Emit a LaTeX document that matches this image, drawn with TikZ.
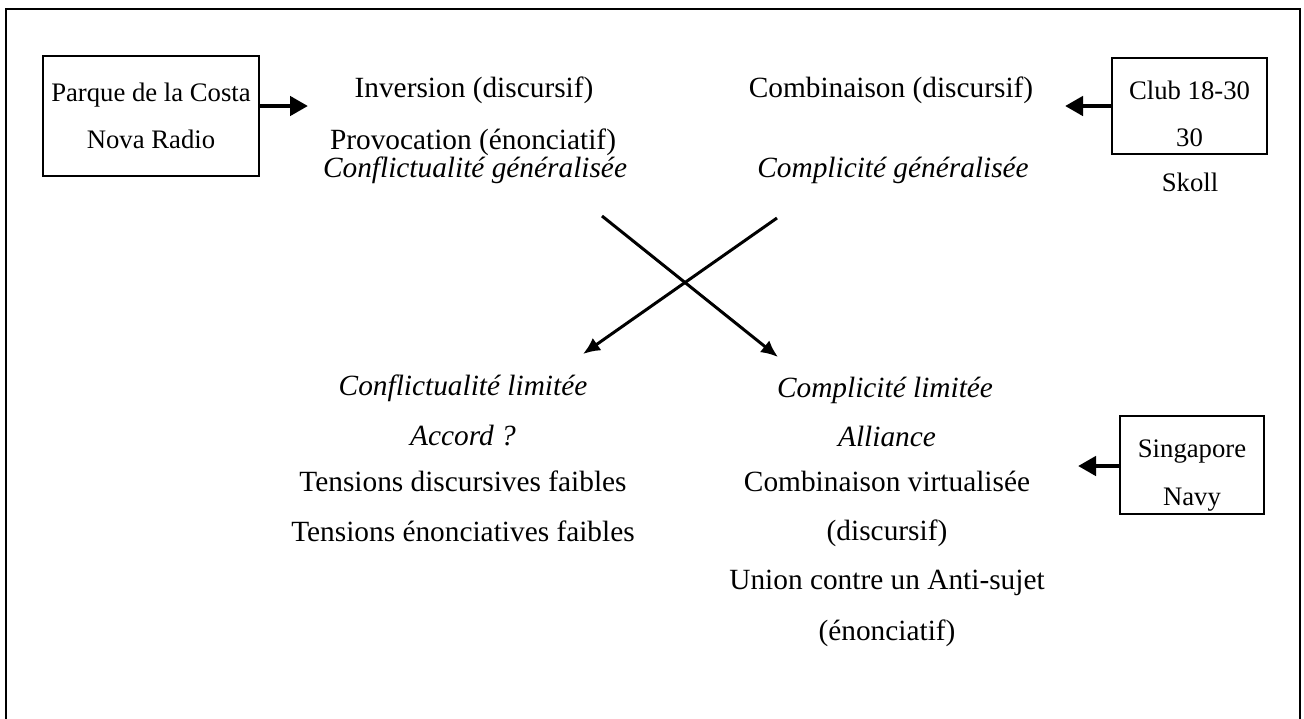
\documentclass[tikz,border=0pt]{standalone}
\usepackage{fontspec}
\setmainfont{Liberation Serif}
\usetikzlibrary{positioning, arrows.meta}

\begin{document}
\begin{tikzpicture}[x=0.02cm, y=-0.02cm,
  every node/.style={font=\fontsize{16.7}{20}\selectfont, inner sep=1pt},
  boxnode/.style={draw, line width=1.1pt, align=center, inner sep=2pt, font=\fontsize{15.2}{27}\selectfont},
  itnode/.style={font=\fontsize{16.7}{20}\selectfont\itshape},
  bigarrow/.style={-{Triangle[length=0.36cm, width=0.38cm]}, line width=2.8pt},
  crossarrow/.style={-{Latex[length=0.34cm, width=0.3cm]}, line width=1.7pt}]

\path[use as bounding box] (0,0) rectangle (1304,718);
\clip (0,0) rectangle (1304,718);
\draw[line width=1.1pt] (6,9) rectangle (1300,740);

% boxes
\node[boxnode, minimum width=4.32cm, minimum height=2.4cm] (parque) at (151,116) {Parque de la Costa\\Nova Radio};
\node[boxnode, minimum width=3.1cm, minimum height=1.92cm] (club) at (1189.5,106) {\rule{0pt}{0.69cm}Club 18-30\\30};
\node[font=\fontsize{15.2}{20}\selectfont] (skoll) at (1190,182) {Skoll};
\node[boxnode, minimum width=2.88cm, minimum height=1.92cm] (singapore) at (1192,465) {\rule{0pt}{0.77cm}Singapore\\Navy};

% top
\node (inversion) at (474,90) {Inversion (discursif)};
\node (provocation) at (473,142) {Provocation (énonciatif)};
\node[itnode] (confgen) at (475,170) {Conflictualité généralisée};
\node (combinaison) at (891,90) {Combinaison (discursif)};
\node[itnode] (compgen) at (893,170) {Complicité généralisée};

% bottom left
\node[itnode] (conflim) at (463,388) {Conflictualité limitée};
\node[itnode] (accord) at (463,436) {Accord ?};
\node (tdisc) at (463,481) {Tensions discursives faibles};
\node (tenon) at (463,531) {Tensions énonciatives faibles};

% bottom right
\node[itnode] (complim) at (885,390) {Complicité limitée};
\node[itnode] (alliance) at (887,436) {Alliance};
\node (combvirt) at (887,481) {Combinaison virtualisée};
\node (discursif) at (887,533) {(discursif)};
\node (union) at (887,583) {Union contre un Anti-sujet};
\node (enonc) at (887,633) {(énonciatif)};

% arrows
\coordinate (tipl) at (308,106);
\coordinate (tipc) at (1065,106);
\coordinate (tips) at (1078,466);
\draw[bigarrow] (parque.east |- tipl) -- (tipl);
\draw[bigarrow] (club.west) -- (tipc);
\draw[bigarrow] (singapore.west |- tips) -- (tips);

\coordinate (xa) at (602,216);
\coordinate (xb) at (778,357);
\coordinate (xc) at (777,218);
\coordinate (xd) at (583,354);
\draw[crossarrow] (xa) -- (xb);
\draw[crossarrow] (xc) -- (xd);
\end{tikzpicture}
\end{document}
